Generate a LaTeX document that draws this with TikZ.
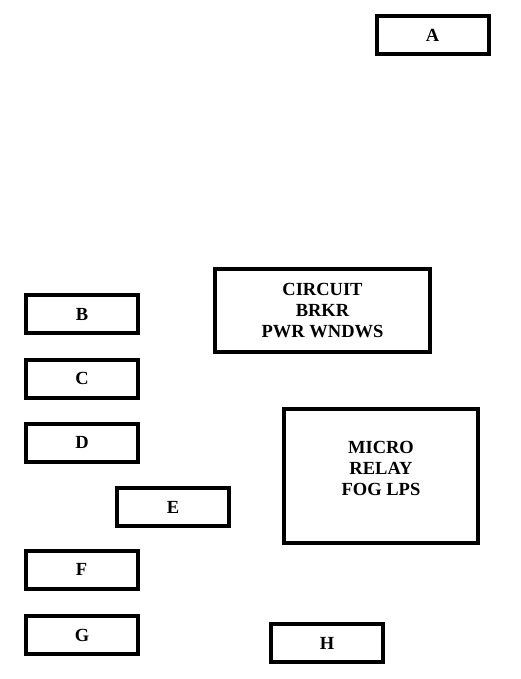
\documentclass[tikz,border=0pt]{standalone}
\usepackage{fontspec}
\setmainfont{Liberation Serif}
\usepackage{tikz}
\usetikzlibrary{positioning}
\tikzset{
  fusebox/.style={draw,line width=4pt,minimum width=112pt,minimum height=38pt,
    font=\bfseries\fontsize{18.5}{21}\selectfont,align=center,inner sep=0pt},
  boxtext/.style={font=\bfseries\fontsize{18.5}{21}\selectfont,align=center,inner sep=0pt},
}
\begin{document}
\begin{tikzpicture}[x=1pt,y=-1pt]
  \useasboundingbox (0,0) rectangle (521,679);
  \node[fusebox] (slotA) at (432.5,35) {A};
  \node[fusebox,minimum width=215pt,minimum height=83pt] (brkr) at (322.5,310.5) {CIRCUIT\\BRKR\\PWR WNDWS};
  \node[fusebox] (slotB) at (82,314) {B};
  \node[fusebox] (slotC) at (82,378.5) {C};
  \node[fusebox] (slotD) at (82,442.5) {D};
  \node[fusebox] (slotE) at (173,507) {E};
  \node[fusebox] (slotF) at (81.5,569.5) {F};
  \node[fusebox,minimum width=194pt,minimum height=134pt] (relay) at (381,476) {};
  \node[boxtext] (relaytext) at (381,468) {MICRO\\RELAY\\FOG LPS};
  \node[fusebox] (slotG) at (82,635) {G};
  \node[fusebox] (slotH) at (327,643) {H};
\end{tikzpicture}
\end{document}
